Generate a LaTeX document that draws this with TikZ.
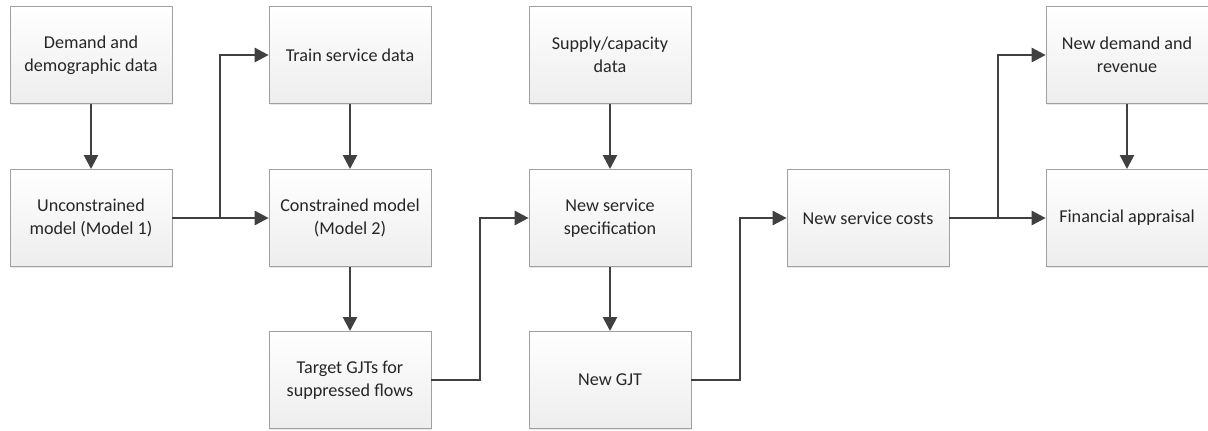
\documentclass[tikz,border=0pt]{standalone}
\usepackage{fontspec}
\setmainfont{Carlito}
\usetikzlibrary{arrows.meta,shadows}
\definecolor{arr}{HTML}{404040}
\definecolor{bord}{HTML}{A0A0A0}
\tikzset{
  box/.style={draw=bord, line width=0.5pt, top color=white, bottom color=gray!14,
    middle color=gray!7, minimum width=121.5pt, minimum height=73pt, align=center,
    inner sep=2pt, font=\fontsize{13.6}{17}\selectfont, text=black!85,
    drop shadow={opacity=0.18, shadow xshift=1pt, shadow yshift=-1pt}},
  link/.style={draw=arr, line width=2pt, -{Triangle[length=10.5pt,width=10.5pt]}},
  plain/.style={draw=arr, line width=2pt}
}
\begin{document}
\begin{tikzpicture}[x=0.75pt,y=-0.75pt]
\useasboundingbox (0,0) rectangle (1208,430);
\node[box] (dem) at (91,55) {Demand and\\demographic data};
\node[box] (unc) at (91,218) {Unconstrained\\model (Model 1)};
\node[box] (trn) at (350,55) {Train service data};
\node[box] (con) at (350,218) {Constrained model\\(Model 2)};
\node[box] (tgt) at (350,380) {Target GJTs for\\suppressed flows};
\node[box] (sup) at (610,55) {Supply/capacity\\data};
\node[box] (spc) at (610,218) {New service\\specification};
\node[box] (gjt) at (610,380) {New GJT};
\node[box] (cst) at (868,218) {New service costs};
\node[box] (nd) at (1127,55) {New demand and\\revenue};
\node[box] (fin) at (1127,218) {Financial appraisal};

\coordinate (b1) at (220,218);
\coordinate (b2) at (480,300);
\coordinate (b3) at (740,300);
\coordinate (b4) at (998,218);

\draw[link] (dem) -- (unc);
\draw[link] (unc.east) -- (con.west);
\draw[link] (b1) |- (trn.west);
\draw[link] (trn) -- (con);
\draw[link] (con) -- (tgt);
\draw[link] (tgt.east) -| (b2) |- (spc.west);
\draw[link] (sup) -- (spc);
\draw[link] (spc) -- (gjt);
\draw[link] (gjt.east) -| (b3) |- (cst.west);
\draw[link] (cst.east) -- (fin.west);
\draw[link] (b4) |- (nd.west);
\draw[link] (nd) -- (fin);
\end{tikzpicture}
\end{document}
